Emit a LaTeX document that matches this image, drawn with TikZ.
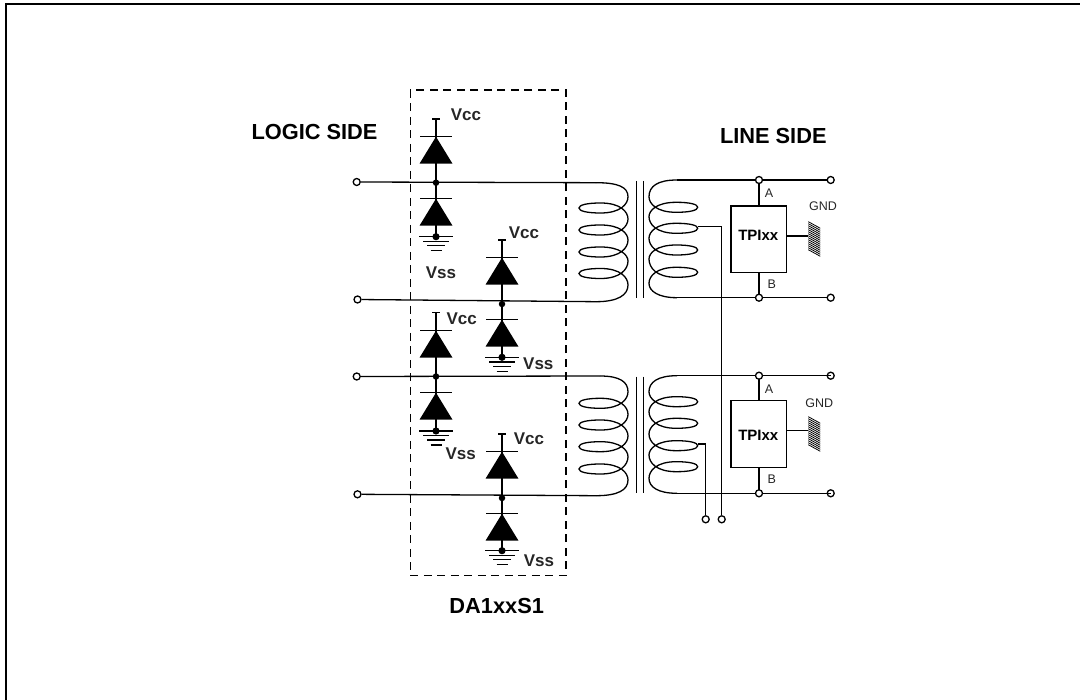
\documentclass[tikz,border=0pt]{standalone}
\usepackage{fontspec}
\setmainfont{Liberation Sans}
\newcommand{\dio}[2]{%
  \fill[black] (#1,#2) -- (#1+16.5,#2+27) -- (#1-16.5,#2+27) -- cycle;
  \draw[wire] (#1-16,#2) -- (#1+16,#2);
  \draw[wire] (#1,#2) -- (#1,#2+27);}
\newcommand{\gnd}[2]{%
  \fill (#1,#2) circle (3.6);
  \draw[wire] (#1-17,#2) -- (#1+17,#2);
  \draw[wire] (#1-13,#2+4.7) -- (#1+13,#2+4.7);
  \draw[wire] (#1-9,#2+9) -- (#1+9,#2+9);
  \draw[wire] (#1-5.5,#2+14) -- (#1+5.5,#2+14);}
\newcommand{\lobe}[5]{% outer x, tip x, y outer, y tip, y next outer
  .. controls (#1,{#3+0.65*(#4-#3)}) and ({(#1+#2)/2+0.35*(#1-#2)},{#4+5}) .. ({(#1+#2)/2-0.06*(#1-#2)},{#4+5})
  .. controls ({#2+0.16*(#1-#2)},{#4+5}) and (#2,{#4+3}) .. (#2,#4)
  .. controls (#2,{#4-3}) and ({#2+0.16*(#1-#2)},{#4-5}) .. ({(#1+#2)/2-0.06*(#1-#2)},{#4-5})
  .. controls ({(#1+#2)/2+0.35*(#1-#2)},{#4-5}) and (#1,{#5-0.65*(#5-#4)}) .. (#1,#5)}
\newcommand{\hatchgnd}[2]{%
  \foreach \i in {0,...,14} {\draw[line width=.8] (#1,#2+\i*2) -- (#1+12,#2+\i*2+6.6);}}
\tikzset{
  x=1pt,y=-1pt,
  wire/.style={line width=1.3pt,black},
  term/.style={circle,draw=black,line width=1.3pt,fill=white,inner sep=0pt,minimum size=7pt},
  dotj/.style={circle,fill=black,inner sep=0pt,minimum size=6.5pt},
  lbl/.style={font=\bfseries\fontsize{17}{17}\selectfont,inner sep=0pt,text=black!85},
  head/.style={font=\bfseries\fontsize{21.8}{22}\selectfont,inner sep=0pt},
  small/.style={font=\fontsize{12.5}{12.5}\selectfont,inner sep=0pt,text=black!85},
  tpi/.style={draw=black,line width=1.3pt,fill=white,minimum width=55.7pt,minimum height=66.7pt,inner sep=0pt},
  tpit/.style={inner sep=0pt,font=\bfseries\fontsize{15}{15}\selectfont},
}
\begin{document}
\begin{tikzpicture}
\useasboundingbox (0,0) rectangle (1080,700);
\draw[line width=2pt] (6,700) -- (6,4) -- (1080,4);
% dashed module
\node[draw=black,line width=1.5pt,dash pattern=on 8pt off 5.5pt,minimum width=155.7pt,minimum height=485.3pt,inner sep=0pt] (mod) at (488.2,332.7) {};
% terminals
\node[term] (l1) at (356.7,182) {}; \node[term] (l2) at (357.5,299.5) {};
\node[term] (l3) at (356.7,376.5) {}; \node[term] (l4) at (357.5,494.3) {};
\coordinate (p1) at (596,182.7); \coordinate (p2) at (596,301.7);
\coordinate (p3) at (600,376); \coordinate (p4) at (596,495.7);
% left wires
\draw[wire] (l1) -- (p1); \draw[wire] (l2) -- (p2); \draw[wire] (l3) -- (p3); \draw[wire] (l4) -- (p4);
% primary coils
\draw[wire] (p1) .. controls (618,182.7) and (628,187) .. (628,196.7)
  \lobe{628}{579}{196.7}{208}{219} \lobe{628}{579}{219}{230}{240} \lobe{628}{579}{240}{252}{261} \lobe{628}{579}{261}{273.5}{285}
  .. controls (628,295) and (618,301.7) .. (p2);
\draw[wire] (p3) .. controls (620,376) and (628,382) .. (628,391.7)
  \lobe{628}{579}{391.7}{403.3}{414.3} \lobe{628}{579}{414.3}{425}{436} \lobe{628}{579}{436}{446.7}{456.7} \lobe{628}{579}{456.7}{469}{480}
  .. controls (628,490) and (618,495.7) .. (p4);
% core
\draw[wire] (636.7,181) -- (636.7,297.7); \draw[wire] (643.3,181) -- (643.3,297.7);
\draw[wire] (636.7,376.7) -- (636.7,493.3); \draw[wire] (643.3,376.7) -- (643.3,493.3);
% secondary
\coordinate (s1) at (677,180); \coordinate (s2) at (677,297.7);
\coordinate (s3) at (677,375.7); \coordinate (s4) at (677,493.3);
\draw[wire] (s1) .. controls (658,180) and (649,186) .. (649,196.7)
  \lobe{649}{697.7}{196.7}{207.3}{216.7} \lobe{649}{697.7}{216.7}{228.3}{238.3} \lobe{649}{697.7}{238.3}{250}{259} \lobe{649}{697.7}{259}{272.3}{283.3}
  .. controls (649,291) and (658,297.7) .. (s2);
\draw[wire] (s3) .. controls (658,375.7) and (649,382) .. (649,391.7)
  \lobe{649}{697.7}{391.7}{401.7}{411.7} \lobe{649}{697.7}{411.7}{423.3}{434} \lobe{649}{697.7}{434}{445.7}{455} \lobe{649}{697.7}{455}{466.7}{478.3}
  .. controls (649,487) and (658,493.3) .. (s4);
% TPI boxes and line side
\node[tpi] (t1) at (758.9,239.4) {}; \node[tpi] (t2) at (758.9,434.2) {};
\node[tpit] (t1t) at (758.3,235) {TPIxx};
\node[tpit] (t2t) at (758.3,435.5) {TPIxx};
\node[term] (o1) at (830.7,180) {}; \node[term] (o2) at (830.7,297.7) {};
\node[term] (o3) at (830.7,375.7) {}; \node[term] (o4) at (830.7,493.3) {};
\coordinate (a1) at (759,180); \coordinate (b1) at (759,297.7);
\coordinate (a2) at (759,375.7); \coordinate (b2) at (759,493.3);
\draw[wire] (s1) -- (o1); \draw[wire] (s2) -- (o2);
\draw[wire] (s3) -- (o3.center); \draw[wire] (s4) -- (o4.center);
\draw[wire] (a1) -- (t1.north -| a1); \draw[wire] (b1) -- (t1.south -| b1);
\draw[wire] (a2) -- (t2.north -| a2); \draw[wire] (b2) -- (t2.south -| b2);
\node[term] (na1) at (a1) {}; \node[term] (nb1) at (b1) {};
\node[term] (na2) at (a2) {}; \node[term] (nb2) at (b2) {};
% GND
\coordinate (g1) at (808.3,236); \coordinate (g2) at (808.3,430.7);
\draw[wire] (t1.east |- g1) -- (g1); \draw[wire] (t2.east |- g2) -- (g2);
\hatchgnd{808.3}{221.7} \hatchgnd{808.3}{416.7}
\node[small] (gl1) at (823,206.7) {GND}; \node[small] (gl2) at (819.3,403.3) {GND};
\node[small] (la1) at (769,193.3) {A}; \node[small] (lb1) at (771.7,284.3) {B};
\node[small] (la2) at (769,389) {A}; \node[small] (lb2) at (771.7,479.3) {B};
% taps
\node[term] (tap1) at (721.7,519.3) {}; \node[term] (tap2) at (705.7,519.3) {};
\coordinate (c1) at (697.7,226.7); \coordinate (c2) at (697.7,444);
\draw[wire] (c1) -- (721.7,226.7) -- (tap1); \draw[wire] (c2) -- (705.7,444) -- (tap2);
% diodes
\dio{436}{136.7} \draw[wire] (432,119) -- (440,119) (436,119) -- (436,136.7);
\draw[wire] (436,163) -- (436,198.7);
\dio{436}{198.7} \draw[wire] (436,225) -- (436,236.7); \gnd{436}{236.7}
\dio{502}{257.7} \draw[wire] (498,240) -- (506,240) (502,240) -- (502,257.7);
\draw[wire] (502,284) -- (502,319.7);
\dio{502}{319.7} \draw[wire] (502,346) -- (502,357.3); \gnd{502}{357.3}
\dio{436}{330.7} \draw[wire] (432,312.7) -- (440,312.7) (436,312.7) -- (436,330.7);
\draw[wire] (436,357) -- (436,392.7);
\dio{436}{392.7} \draw[wire] (436,419) -- (436,431); \gnd{436}{431}
\dio{502}{451.7} \draw[wire] (498,434) -- (506,434) (502,434) -- (502,451.7);
\draw[wire] (502,478) -- (502,513.7);
\dio{502}{513.7} \draw[wire] (502,540) -- (502,550.7); \gnd{502}{550.7}
\node[dotj] (j1) at (436,182.7) {}; \node[dotj] (j2) at (502,304) {};
\node[dotj] (j3) at (436,376.5) {}; \node[dotj] (j4) at (502,498) {};
% labels
\node[lbl] (v1) at (466,115) {Vcc}; \node[lbl] (v2) at (524,232.3) {Vcc};
\node[lbl] (v3) at (461.7,319) {Vcc}; \node[lbl] (v4) at (529,439) {Vcc};
\node[lbl] (s5) at (441,272.3) {Vss}; \node[lbl] (s6) at (538.3,363.3) {Vss};
\node[lbl] (s7) at (460.7,453.3) {Vss}; \node[lbl] (s8) at (539,560.7) {Vss};
\node[head] (h1) at (314.5,131.7) {LOGIC SIDE}; \node[head] (h2) at (773.3,136.2) {LINE SIDE};
\node[head] (h3) at (496.7,605.5) {DA1xxS1};
\end{tikzpicture}
\end{document}
